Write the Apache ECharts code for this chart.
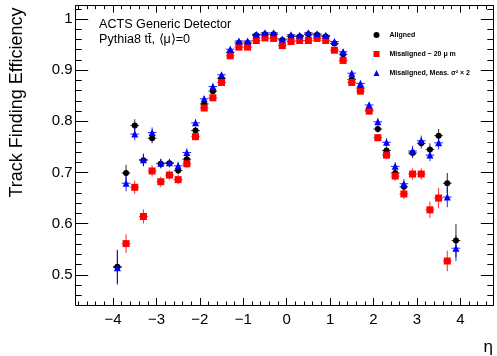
<!DOCTYPE html>
<html>
<head>
<meta charset="utf-8">
<script src="https://cdn.jsdelivr.net/npm/echarts@6/dist/echarts.min.js"></script>
<style>
html,body{margin:0;padding:0;background:#fff;}
#chart{width:497px;height:356px;}
</style>
</head>
<body>
<div id="chart"></div>
<script>
// eta bin centres
const eta = [-3.9, -3.7, -3.5, -3.3, -3.1, -2.9, -2.7, -2.5, -2.3, -2.1,
             -1.9, -1.7, -1.5, -1.3, -1.1, -0.9, -0.7, -0.5, -0.3, -0.1,
              0.1,  0.3,  0.5,  0.7,  0.9,  1.1,  1.3,  1.5,  1.7,  1.9,
              2.1,  2.3,  2.5,  2.7,  2.9,  3.1,  3.3,  3.5,  3.7,  3.9];

const alignedEff = [0.516, 0.699, 0.792, 0.724, 0.767, 0.717, 0.718, 0.704, 0.726, 0.782,
                    0.834, 0.859, 0.884, 0.935, 0.953, 0.953, 0.968, 0.970, 0.970, 0.959,
                    0.966, 0.966, 0.970, 0.969, 0.966, 0.952, 0.931, 0.882, 0.865, 0.822,
                    0.785, 0.743, 0.699, 0.672, 0.738, 0.757, 0.745, 0.772, 0.679, 0.567];
const alignedErr = [0.033, 0.016, 0.012, 0.012, 0.010, 0.009, 0.008, 0.008, 0.008, 0.007,
                    0.006, 0.006, 0.005, 0.005, 0.004, 0.004, 0.004, 0.004, 0.004, 0.004,
                    0.004, 0.004, 0.004, 0.004, 0.004, 0.004, 0.005, 0.005, 0.006, 0.006,
                    0.007, 0.008, 0.008, 0.009, 0.010, 0.010, 0.012, 0.013, 0.020, 0.032];

const misEff = [null, 0.561, 0.671, 0.614, 0.703, 0.682, 0.695, 0.686, 0.717, 0.770,
                0.826, 0.846, 0.876, 0.928, 0.945, 0.945, 0.958, 0.963, 0.962, 0.948,
                0.956, 0.958, 0.958, 0.962, 0.958, 0.939, 0.919, 0.876, 0.859, 0.820,
                0.768, 0.734, 0.693, 0.658, 0.697, 0.697, 0.627, 0.650, 0.527, null];
const misErr = [null, 0.018, 0.013, 0.014, 0.011, 0.010, 0.009, 0.009, 0.008, 0.007,
                0.006, 0.006, 0.005, 0.005, 0.005, 0.005, 0.004, 0.004, 0.004, 0.004,
                0.004, 0.004, 0.004, 0.004, 0.004, 0.005, 0.005, 0.006, 0.006, 0.007,
                0.007, 0.008, 0.009, 0.010, 0.011, 0.011, 0.016, 0.020, 0.020, null];

const measEff = [0.514, 0.679, 0.775, 0.725, 0.778, 0.718, 0.719, 0.713, 0.739, 0.797,
                 0.844, 0.868, 0.891, 0.941, 0.957, 0.957, 0.970, 0.973, 0.973, 0.961,
                 0.969, 0.968, 0.973, 0.971, 0.968, 0.956, 0.936, 0.894, 0.874, 0.832,
                 0.799, 0.759, 0.712, 0.678, 0.742, 0.762, 0.734, 0.758, 0.652, 0.552];
const measErr = [0.033, 0.016, 0.012, 0.012, 0.010, 0.009, 0.008, 0.008, 0.008, 0.007,
                 0.006, 0.006, 0.005, 0.005, 0.004, 0.004, 0.004, 0.004, 0.004, 0.004,
                 0.004, 0.004, 0.004, 0.004, 0.004, 0.004, 0.005, 0.005, 0.006, 0.006,
                 0.007, 0.008, 0.008, 0.009, 0.010, 0.010, 0.012, 0.013, 0.020, 0.025];

const xMajor = [-4, -3, -2, -1, 0, 1, 2, 3, 4];
const yMajor = [0.5, 0.6, 0.7, 0.8, 0.9, 1.0];
const binHalfWidth = 0.1;

const seriesNames = ['Aligned', 'Misaligned ~ 20 \u03bc m', 'Misaligned, Meas. \u03c3\u00b2 \u00d7 2'];

// minor tick values
const xMinor = [];
for (let i = -24; i <= 23; i++) { if (i % 5 !== 0) xMinor.push(+(i * 0.2).toFixed(1)); }
const yMinor = [];
for (let i = 23; i <= 51; i++) { if (i % 5 !== 0) yMinor.push(+(i * 0.02).toFixed(2)); }

function makeData(vals, errs) {
  const out = [];
  eta.forEach((x, i) => { if (vals[i] != null) out.push([x, vals[i], errs[i]]); });
  return out;
}

function errRender(color) {
  return function (params, api) {
    const x = api.value(0), y = api.value(1), e = api.value(2);
    const l = api.coord([x - binHalfWidth, y]);
    const r = api.coord([x + binHalfWidth, y]);
    const t = api.coord([x, y + e]);
    const b = api.coord([x, y - e]);
    return {
      type: 'group',
      children: [
        { type: 'line', shape: { x1: l[0], y1: l[1], x2: r[0], y2: r[1] }, style: { stroke: color, lineWidth: 1, opacity: 0.85 } },
        { type: 'line', shape: { x1: t[0], y1: t[1], x2: b[0], y2: b[1] }, style: { stroke: color, lineWidth: 1, opacity: 0.85 } }
      ]
    };
  };
}

const FONT = "'Liberation Sans', Arial, Helvetica, sans-serif";
const XMIN = -4.86, XMAX = 4.76, YMIN = 0.441, YMAX = 1.026;

function xAx(pos, custom, len, labels, line) {
  return {
    type: 'value', position: pos, min: XMIN, max: XMAX,
    axisLine: { show: line, onZero: false, lineStyle: { color: '#000', width: 1 } },
    axisTick: { show: true, inside: true, length: len, customValues: custom, lineStyle: { color: '#000', width: 1 } },
    axisLabel: labels ? {
      show: true, customValues: xMajor, color: '#000', fontSize: 15, fontFamily: FONT, margin: 7,
      formatter: v => (v < 0 ? '\u2212' + Math.abs(v) : String(v))
    } : { show: false },
    splitLine: { show: false }
  };
}
function yAx(pos, custom, len, labels, line) {
  return {
    type: 'value', position: pos, min: YMIN, max: YMAX,
    axisLine: { show: line, onZero: false, lineStyle: { color: '#000', width: 1 } },
    axisTick: { show: true, inside: true, length: len, customValues: custom, lineStyle: { color: '#000', width: 1 } },
    axisLabel: labels ? {
      show: true, customValues: yMajor, color: '#000', fontSize: 15, fontFamily: FONT, margin: 3,
      formatter: v => (Math.abs(v - 1) < 1e-9 ? '1' : v.toFixed(1))
    } : { show: false },
    splitLine: { show: false }
  };
}

const chart = echarts.init(document.getElementById('chart'), null, { renderer: 'canvas' });
const colors = ['#000000', '#ff0000', '#0000ff'];
const symbols = ['circle', 'rect', 'triangle'];
const sizes = [6, 7, 7];
const dataSets = [makeData(alignedEff, alignedErr), makeData(misEff, misErr), makeData(measEff, measErr)];

const series = [];
dataSets.forEach((d, i) => {
  series.push({
    type: 'custom', name: 'err' + i, xAxisIndex: 0, yAxisIndex: 0,
    renderItem: errRender(colors[i]), data: d, encode: { x: 0, y: 1 }, silent: true
  });
  series.push({
    type: 'scatter', name: seriesNames[i], xAxisIndex: 0, yAxisIndex: 0,
    symbol: symbols[i], symbolSize: sizes[i], data: d.map(p => [p[0], p[1]]),
    itemStyle: { color: colors[i], opacity: 1 }
  });
});

chart.setOption({
  animation: false,
  backgroundColor: '#fff',
  grid: { left: 75.7, right: 3.7, top: 5.7, bottom: 51, containLabel: false },
  xAxis: [
    xAx('bottom', xMajor, 7, true, true),
    xAx('bottom', xMinor, 3.5, false, false),
    xAx('top', xMajor, 7, false, true),
    xAx('top', xMinor, 3.5, false, false)
  ],
  yAxis: [
    yAx('left', yMajor, 12.5, true, true),
    yAx('left', yMinor, 6, false, false),
    yAx('right', yMajor, 12.5, false, true),
    yAx('right', yMinor, 6, false, false)
  ],
  legend: {
    orient: 'vertical', left: 373.5, top: 31.5, itemWidth: 6, itemHeight: 6, itemGap: 12,
    padding: 0, selectedMode: false,
    data: seriesNames.map((n, i) => ({ name: n, icon: symbols[i] })),
    textStyle: { fontSize: 7, fontWeight: 'bold', fontFamily: FONT, color: '#000', lineHeight: 7, padding: [0, 0, 0, 5] }
  },
  graphic: [
    { type: 'text', left: 99, top: 18.5, style: { text: 'ACTS Generic Detector', fontSize: 12.6, fontFamily: FONT, fill: '#000' } },
    { type: 'text', left: 99, top: 33.5, style: { text: 'Pythia8 tt\u0304, \u27e8\u03bc\u27e9=0', fontSize: 12.6, fontFamily: FONT, fill: '#000' } },
    { type: 'text', x: 17, y: 102.5, rotation: Math.PI / 2,
      style: { text: 'Track Finding Efficiency', x: 0, y: 0, align: 'center', verticalAlign: 'middle', fontSize: 18, fontFamily: FONT, fill: '#000' } },
    { type: 'text', x: 493, y: 347, style: { text: '\u03b7', x: 0, y: 0, align: 'right', verticalAlign: 'middle', fontSize: 17, fontFamily: FONT, fill: '#000' } }
  ],
  series: series
});
</script>
</body>
</html>
